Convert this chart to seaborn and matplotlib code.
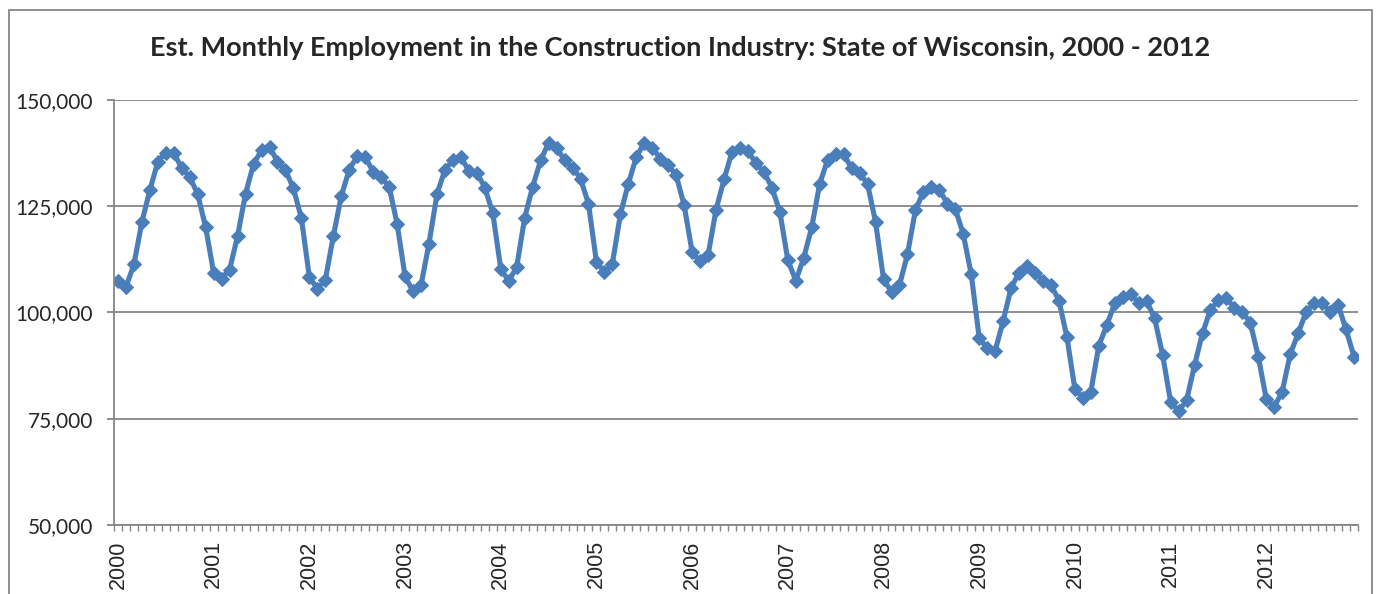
import numpy as np
import pandas as pd
import seaborn as sns
import matplotlib.pyplot as plt
from matplotlib.patches import Rectangle
from matplotlib.ticker import FuncFormatter, FixedLocator

# estimated monthly employment (Jan..Dec per year)
years = list(range(2000, 2013))
emp_2000 = [107500, 106000, 111300, 121300, 128800, 135500, 137600, 137600, 133900, 131900, 127800, 120000]
emp_2001 = [109300, 107900, 110100, 118000, 128000, 134900, 138200, 139000, 135500, 133500, 129200, 122200]
emp_2002 = [108300, 105600, 107700, 117900, 127400, 133600, 136800, 136600, 133100, 131900, 129600, 120900]
emp_2003 = [108500, 105000, 106400, 116200, 127800, 133600, 135800, 136600, 133300, 132900, 129400, 123400]
emp_2004 = [110300, 107400, 110700, 122300, 129600, 135800, 139900, 138800, 135800, 134100, 131500, 125600]
emp_2005 = [111900, 109500, 111500, 123100, 130300, 136600, 139900, 138800, 136200, 134700, 132300, 125200]
emp_2006 = [114200, 112000, 113500, 124200, 131300, 137800, 138600, 138000, 135100, 133100, 129400, 123700]
emp_2007 = [112300, 107500, 112900, 120100, 130300, 136000, 137300, 137300, 133900, 132900, 130200, 121300]
emp_2008 = [107900, 104800, 106400, 113700, 124100, 128400, 129600, 128900, 125600, 124400, 118400, 109000]
emp_2009 = [94000, 91600, 91000, 98000, 105800, 109400, 110900, 109400, 107500, 106500, 102800, 94200]
emp_2010 = [81900, 80000, 81400, 92200, 97000, 102200, 103700, 104300, 102300, 102700, 98600, 90000]
emp_2011 = [79000, 76800, 79300, 87600, 95100, 100700, 102900, 103500, 101000, 100200, 97500, 89600]
emp_2012 = [79600, 77800, 81400, 90200, 95100, 100200, 102200, 102300, 100200, 101800, 96000, 89600]

all_years = [emp_2000, emp_2001, emp_2002, emp_2003, emp_2004, emp_2005, emp_2006,
             emp_2007, emp_2008, emp_2009, emp_2010, emp_2011, emp_2012]
values = [v for yr in all_years for v in yr]
df = pd.DataFrame({'idx': np.arange(len(values)), 'employment': values})

sns.set_style("white")
plt.rcParams['font.family'] = ['Lato', 'DejaVu Sans']

grey = '#868686'
blue = '#4A7EBB'

fig = plt.figure(figsize=(13.77, 5.94), dpi=100)
ax = fig.add_axes([114 / 1377, 1 - 525 / 594, (1358 - 114) / 1377, 425 / 594])

# chart area border
fig.patches.append(Rectangle((9 / 1377, -0.05), (1372 - 9) / 1377, 1.05 - 10 / 594,
                             transform=fig.transFigure, fill=False,
                             edgecolor=grey, lw=1.3))

sns.lineplot(data=df, x='idx', y='employment', ax=ax, color=blue, lw=3.7,
             marker='D', markersize=7.5, markeredgecolor=blue)

ax.set_xlim(-0.5, len(values) - 0.5)
ax.set_ylim(50000, 150000)
ax.set_yticks([50000, 75000, 100000, 125000, 150000])
ax.yaxis.set_major_formatter(FuncFormatter(lambda v, p: f'{v:,.0f}'))
ax.grid(axis='y', color=grey, lw=1.3)
ax.set_axisbelow(True)

ax.set_xticks([i * 12 for i in range(len(years))])
ax.set_xticklabels([str(y) for y in years], rotation=90, va='top', ha='center',
                   fontsize=15.5, family=['Liberation Sans'])
ax.xaxis.set_minor_locator(FixedLocator(np.arange(len(values) + 1) - 0.5))
ax.tick_params(axis='x', which='major', length=0, pad=11)
ax.tick_params(axis='x', which='minor', length=4.5, color=grey, width=1, direction='out', bottom=True)
ax.tick_params(axis='y', which='major', length=5, color=grey, width=1.3, pad=10,
               labelsize=15, left=True)

for side in ['top', 'right']:
    ax.spines[side].set_visible(False)
for side in ['left', 'bottom']:
    ax.spines[side].set_color(grey)
    ax.spines[side].set_linewidth(1.3)

ax.set_xlabel('')
ax.set_ylabel('')
fig.text(680 / 1377, 1 - 48 / 594,
         'Est. Monthly Employment in the Construction Industry: State of Wisconsin, 2000 - 2012',
         ha='center', va='center', fontsize=19.5, fontweight='bold')

fig.savefig('out.png', dpi=100)
